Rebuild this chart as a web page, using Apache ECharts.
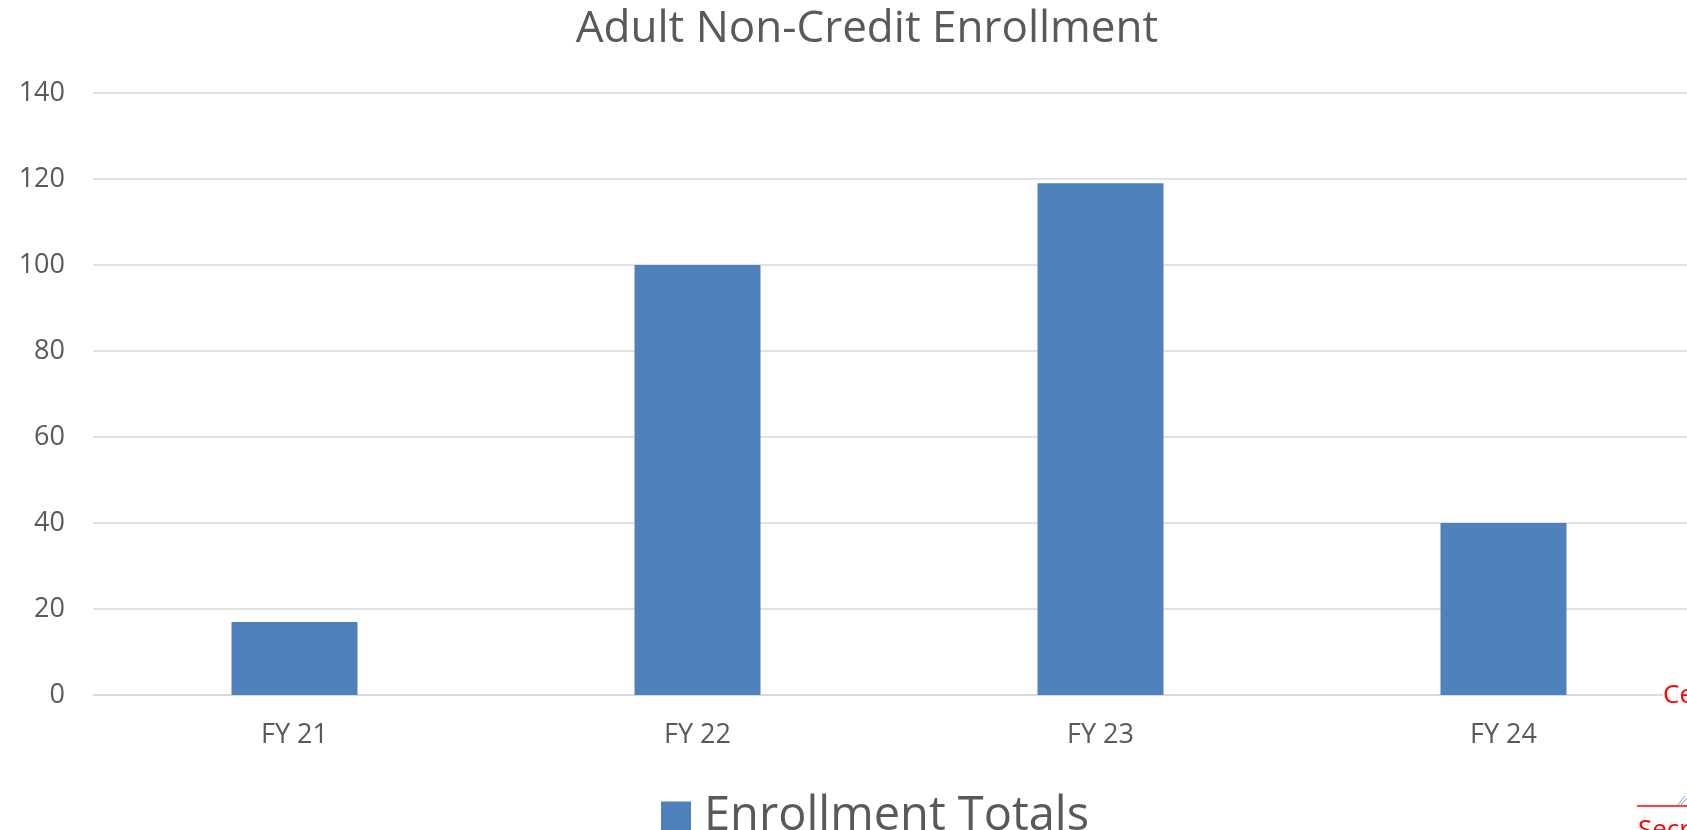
<!DOCTYPE html>
<html><head><meta charset="utf-8">
<script src="https://cdn.jsdelivr.net/npm/echarts@6/dist/echarts.min.js"></script>
<style>html,body{margin:0;padding:0;background:#fff}#c{width:1687px;height:830px}</style>
</head><body><div id="c"></div>
<script>
var categories = ["FY 21", "FY 22", "FY 23", "FY 24"];
var enrollmentTotals = [17, 100, 119, 40];
var seriesName = "Enrollment Totals";
var chartTitle = "Adult Non-Credit Enrollment";

var chart = echarts.init(document.getElementById('c'));
chart.setOption({
  animation: false,
  backgroundColor: '#fff',
  title: {
    text: chartTitle, left: 862, top: 2, textAlign: 'center',
    textStyle: {fontFamily: 'Open Sans', fontSize: 44, fontWeight: 'normal', color: '#595959'}
  },
  legend: {
    data: [seriesName], top: 788, left: 656,
    itemWidth: 30, itemHeight: 30, icon: 'rect', itemGap: 10,
    textStyle: {fontFamily: 'Open Sans', fontSize: 47, color: '#595959', padding: [0,0,0,8]}
  },
  grid: {left: 93, top: 93, width: 1612, height: 602, containLabel: false, outerBoundsMode: 'none'},
  xAxis: {
    type: 'category', data: categories,
    axisLine: {lineStyle: {color: '#D9D9D9', width: 1.5}},
    axisTick: {show: false},
    axisLabel: {fontFamily: 'Open Sans', fontSize: 27, color: '#595959', margin: 27}
  },
  yAxis: {
    type: 'value', min: 0, max: 140, interval: 20,
    axisLine: {show: false}, axisTick: {show: false},
    splitLine: {lineStyle: {color: '#D9D9D9', width: 1.5}},
    axisLabel: {fontFamily: 'Open Sans', fontSize: 27, color: '#595959', margin: 28}
  },
  series: [{
    name: seriesName, type: 'bar', data: enrollmentTotals, barWidth: 126,
    itemStyle: {color: '#4F81BD'}
  }],
  graphic: [
    {type: 'text', left: 1663, top: 683, z: 100,
     style: {text: 'Ce', fill: '#FF0000', font: '26px "Open Sans"', backgroundColor: '#fff'}},
    {type: 'line', z: 100, shape: {x1: 1637, y1: 806, x2: 1687, y2: 806}, style: {stroke: '#FF0000', lineWidth: 1.5}},
    {type: 'line', z: 101, shape: {x1: 1677, y1: 806, x2: 1685, y2: 796}, style: {stroke: '#7F95C0', lineWidth: 1}},
    {type: 'line', z: 101, shape: {x1: 1680, y1: 806, x2: 1687, y2: 798}, style: {stroke: '#7F95C0', lineWidth: 1}},
    {type: 'text', left: 1638, top: 818, z: 100,
     style: {text: 'Secr', fill: '#FF0000', font: '26px "Open Sans"'}}
  ]
});
</script></body></html>
